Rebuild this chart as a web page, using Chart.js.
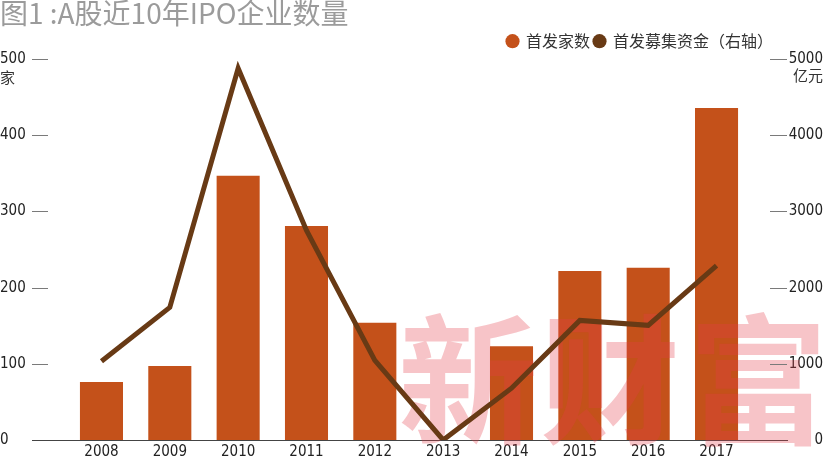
<!DOCTYPE html>
<html><head><meta charset="utf-8">
<script src="https://cdn.jsdelivr.net/npm/chart.js@4.4.1/dist/chart.umd.min.js"></script>
<style>html,body{margin:0;padding:0;background:#fff;overflow:hidden}</style>
</head><body>
<canvas id="c" width="826" height="458"></canvas>
<script>
const titleText = '图1 :A股近10年IPO企业数量';
const years = ['2008','2009','2010','2011','2012','2013','2014','2015','2016','2017'];
const ipoCounts = [76, 97, 347, 281, 154, 0, 123, 222, 226, 436];
const ipoFunds = [1034, 1741, 4880, 2750, 1045, 0, 680, 1570, 1505, 2290];
const seriesNames = ['首发家数', '首发募集资金（右轴）'];
const leftUnit = '家';
const rightUnit = '亿元';
const watermarkText = '新财富';

const NUM_FONT = "'Liberation Sans Narrow','DejaVu Sans Condensed',sans-serif";
const CJK_FONT = "'Noto Sans CJK SC','Noto Sans',sans-serif";

const decor = {
  id: 'decor',
  afterLayout(chart) {
    const lg = chart.legend;
    if (lg) { lg.right -= 46; }
  },
  beforeDatasetsDraw(chart) {
    const ctx = chart.ctx, y = chart.scales.y.getPixelForValue(0);
    ctx.save();
    ctx.strokeStyle = '#444';
    ctx.lineWidth = 1;
    ctx.beginPath();
    ctx.moveTo(32, Math.round(y) + 0.5);
    ctx.lineTo(788, Math.round(y) + 0.5);
    ctx.stroke();
    ctx.restore();
  },
  afterDatasetDraw(chart, args) {
    if (args.index !== 0) return;
    const ctx = chart.ctx;
    ctx.save();
    ctx.fillStyle = 'rgba(228,58,72,0.30)';
    ctx.font = "bold 140px " + CJK_FONT;
    ctx.textBaseline = 'top';
    ctx.textAlign = 'left';
    const chars = Array.from(watermarkText);
    const xs = [398, 540, 688];
    chars.forEach((ch, i) => ctx.fillText(ch, xs[i], 310));
    ctx.restore();
  },
  afterDraw(chart) {
    const ctx = chart.ctx;
    const yl = chart.scales.y, yr = chart.scales.y1;
    ctx.save();
    ctx.strokeStyle = '#7a7a7a';
    ctx.lineWidth = 1;
    yl.ticks.forEach(t => {
      if (t.value === 0) return;
      const p = Math.round(yl.getPixelForValue(t.value)) + 0.5;
      ctx.beginPath(); ctx.moveTo(32, p); ctx.lineTo(48, p); ctx.stroke();
    });
    yr.ticks.forEach(t => {
      if (t.value === 0) return;
      const p = Math.round(yr.getPixelForValue(t.value)) + 0.5;
      ctx.beginPath(); ctx.moveTo(770, p); ctx.lineTo(787, p); ctx.stroke();
    });
    ctx.fillStyle = '#333';
    ctx.font = "15px " + CJK_FONT;
    ctx.textBaseline = 'top';
    ctx.textAlign = 'left';
    ctx.fillText(leftUnit, 0, 70);
    ctx.textAlign = 'right';
    ctx.fillText(rightUnit, 823, 68);
    ctx.restore();
  }
};

new Chart(document.getElementById('c'), {
  type: 'bar',
  data: {
    labels: years,
    datasets: [
      {
        type: 'bar',
        label: seriesNames[0],
        data: ipoCounts,
        backgroundColor: '#C4511A',
        borderWidth: 0,
        yAxisID: 'y',
        order: 1,
        barPercentage: 0.9,
        categoryPercentage: 0.70
      },
      {
        type: 'line',
        label: seriesNames[1],
        data: ipoFunds,
        borderColor: '#683A15',
        backgroundColor: '#683A15',
        borderWidth: 5,
        pointRadius: 0,
        pointHoverRadius: 0,
        tension: 0,
        borderJoinStyle: 'miter',
        borderCapStyle: 'butt',
        yAxisID: 'y1',
        order: 0
      }
    ]
  },
  options: {
    responsive: false,
    animation: false,
    devicePixelRatio: 1,
    layout: { padding: { left: 0, right: 3, top: 0, bottom: 0 } },
    plugins: {
      title: {
        display: true,
        text: titleText,
        align: 'start',
        color: '#9b9b9b',
        font: { family: CJK_FONT, size: 28, weight: 'normal', lineHeight: 0.97 },
        padding: { top: 0, bottom: 2 }
      },
      legend: {
        display: true,
        position: 'top',
        align: 'end',
        labels: {
          usePointStyle: true,
          pointStyle: 'circle',
          boxWidth: 11,
          boxHeight: 10,
          padding: 4,
          color: '#333',
          font: { family: CJK_FONT, size: 16 },
          sort: (a, b) => a.datasetIndex - b.datasetIndex,
          generateLabels: (chart) => Chart.defaults.plugins.legend.labels.generateLabels(chart)
            .map(l => Object.assign(l, { lineWidth: 0, fillStyle: chart.data.datasets[l.datasetIndex].backgroundColor }))
        }
      },
      tooltip: { enabled: false }
    },
    scales: {
      x: {
        grid: { display: false, drawTicks: false },
        border: { display: false },
        ticks: { color: '#222', font: { family: NUM_FONT, size: 15 }, padding: 3, maxRotation: 0 },
        afterFit(s) { s.height = 18; }
      },
      y: {
        position: 'left',
        min: 0, max: 500,
        grid: { display: false, drawTicks: false },
        border: { display: false },
        ticks: { stepSize: 100, crossAlign: 'far', color: '#222', font: { family: NUM_FONT, size: 15 }, callback: v => String(v) },
        afterFit(s) { s.width = 67.3; }
      },
      y1: {
        position: 'right',
        min: 0, max: 5000,
        grid: { display: false, drawTicks: false },
        border: { display: false },
        ticks: { stepSize: 1000, crossAlign: 'far', color: '#222', font: { family: NUM_FONT, size: 15 }, callback: v => String(v) },
        afterFit(s) { s.width = 72.3; }
      }
    }
  },
  plugins: [decor]
});
</script>
</body></html>
